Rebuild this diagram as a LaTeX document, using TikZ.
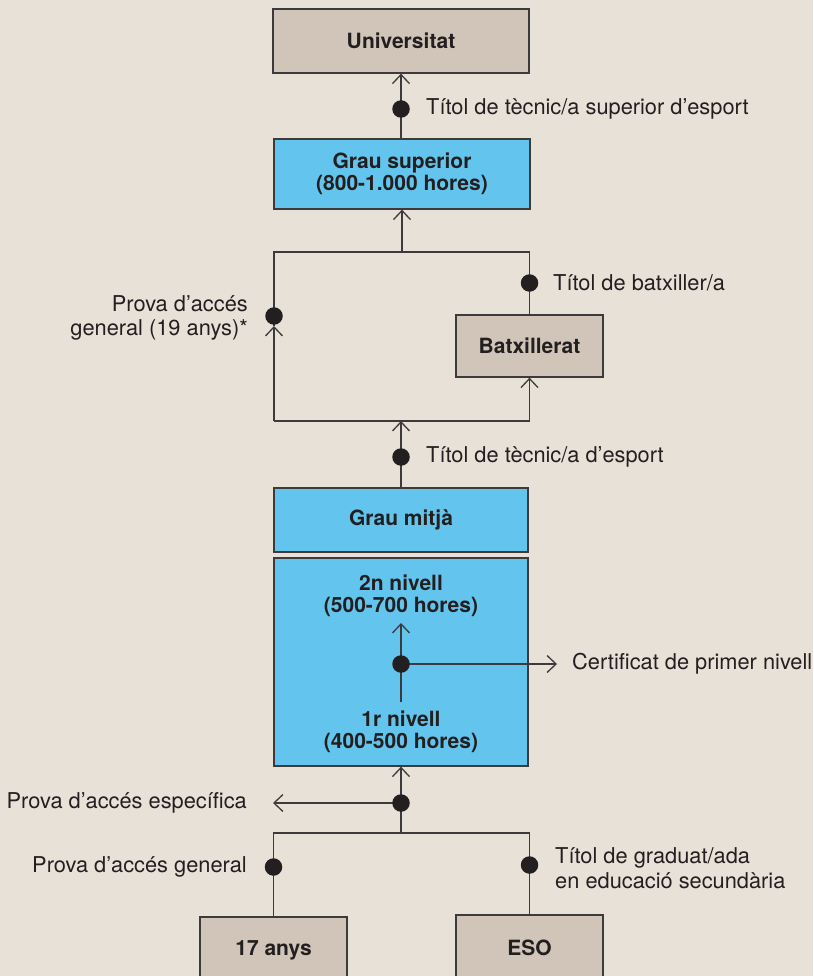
\documentclass[tikz,border=0pt]{standalone}
\usepackage{fontspec}
\setmainfont{TeX Gyre Heros}
\usetikzlibrary{arrows.meta}
\definecolor{bg}{HTML}{E8E1D8}
\definecolor{tanc}{HTML}{D0C5B8}
\definecolor{sky}{HTML}{63C5ED}
\definecolor{ink}{HTML}{231F20}
\definecolor{lnc}{HTML}{3C3A3A}
\begin{document}
\begin{tikzpicture}[x=1pt,y=-1pt,
  every node/.style={text=ink, font=\fontsize{21.8}{24.5}\selectfont},
  box/.style={draw=lnc, line width=1.3pt, inner sep=0pt, align=center, font=\fontsize{21}{22}\selectfont\bfseries},
  tanbox/.style={box, fill=tanc},
  bluebox/.style={box, fill=sky},
  conn/.style={draw=lnc, line width=1.3pt},
  arr/.style={conn, -{Straight Barb[length=9pt,width=17pt]}},
  dot/.style={circle, fill=ink, minimum size=17.5pt, inner sep=0pt},
  lbl/.style={inner sep=0pt}
]
\fill[bg] (0,0) rectangle (813,976);
\useasboundingbox (0,0) rectangle (813,976);
\clip (0,0) rectangle (813,976);

% boxes
\node[tanbox, minimum width=256pt, minimum height=64pt] (univ) at (401,41) {Universitat};
\node[bluebox, minimum width=256pt, minimum height=70pt] (gsup) at (402,174) {Grau superior\\(800-1.000 hores)};
\node[tanbox, minimum width=147pt, minimum height=62pt] (batx) at (529.5,346) {Batxillerat};
\node[bluebox, minimum width=254pt, minimum height=64pt] (gmit) at (401,520) {Grau mitjà};
\node[bluebox, minimum width=254pt, minimum height=208pt] (niv) at (401,662) {};
\node[box, draw=none] (n2) at (401,596) {2n nivell\\(500-700 hores)};
\node[box, draw=none] (n1) at (401,732) {1r nivell\\(400-500 hores)};
\node[tanbox, minimum width=147pt, minimum height=66pt] (anys) at (273.5,950) {17 anys};
\node[tanbox, minimum width=147pt, minimum height=66pt] (eso) at (529.5,948) {ESO};

% junction coordinates
\coordinate (j1) at (402,252);
\coordinate (l1) at (274,252);
\coordinate (r1) at (529.5,252);
\coordinate (j2) at (401,421);
\coordinate (l2) at (274,421);
\coordinate (r2) at (529.5,421);
\coordinate (ltip) at (274,326);
\coordinate (j3) at (401,833);
\coordinate (l3) at (273.5,833);
\coordinate (r3) at (529.5,833);
\coordinate (nb) at (401,702);
\coordinate (nt) at (401,623);
\coordinate (cert) at (557,664);
\coordinate (espe) at (273,803);

% connectors
\draw[arr] (gsup.north -| univ.south) -- (univ.south);
\draw[arr] (j1) -- (gsup.south -| j1);
\draw[conn] (ltip) -- (l1) -- (r1) -- (batx.north -| r1);
\draw[arr] (l2) -- (ltip);
\draw[conn] (l2) -- (r2);
\draw[arr] (r2) -- (batx.south -| r2);
\draw[arr] (gmit.north -| j2) -- (j2);
\draw[arr] (nb) -- (nt);
\draw[arr] (401,664) -- (cert);
\draw[arr] (j3) -- (niv.south -| j3);
\draw[arr] (401,803) -- (espe);
\draw[conn] (anys.north -| l3) -- (l3) -- (r3) -- (eso.north -| r3);

% dots
\node[dot] (d1) at (401,109) {};
\node[dot] (d2) at (529.5,283) {};
\node[dot] (d3) at (274,316) {};
\node[dot] (d4) at (401,457) {};
\node[dot] (d5) at (401,664) {};
\node[dot] (d6) at (401,803) {};
\node[dot] (d7) at (273.5,867) {};
\node[dot] (d8) at (529.5,865) {};

% labels
\node[lbl, anchor=west] (t1) at (426,109) {Títol de tècnic/a superior d’esport};
\node[lbl, anchor=west] (t2) at (553,283) {Títol de batxiller/a};
\node[lbl, anchor=east, align=right] (t3) at (248,318) {Prova d’accés\\general (19 anys)*};
\node[lbl, anchor=west] (t4) at (426,457) {Títol de tècnic/a d’esport};
\node[lbl, anchor=west] (t5) at (572,664) {Certificat de primer nivell};
\node[lbl, anchor=east] (t6) at (247,803) {Prova d’accés específica};
\node[lbl, anchor=east] (t7) at (247,867) {Prova d’accés general};
\node[lbl, anchor=west, align=left] (t8) at (555,868) {Títol de graduat/ada\\en educació secundària};
\end{tikzpicture}
\end{document}
